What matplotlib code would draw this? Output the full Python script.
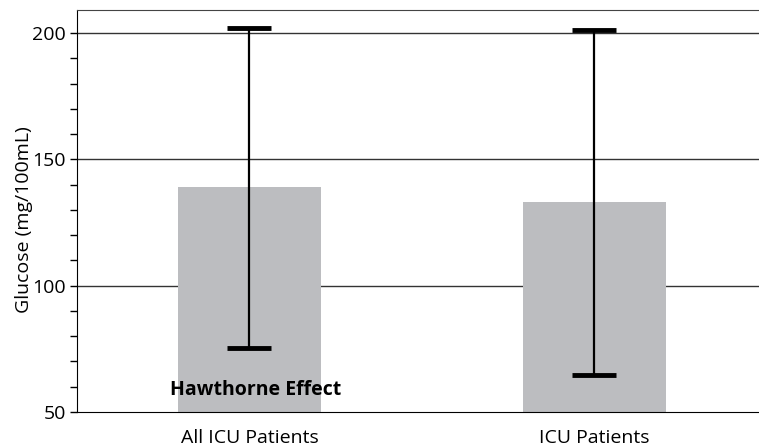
import matplotlib.pyplot as plt

categories = ['All ICU Patients', 'ICU Patients']
means = [138.9, 133.3]
lows = [75.2, 64.5]
highs = [202.0, 201.0]

plt.rcParams['font.family'] = ['Open Sans', 'DejaVu Sans']

fig = plt.figure(figsize=(7.59, 4.47), dpi=100)
ax = fig.add_axes([77 / 759, 1 - 412 / 447, 682 / 759, 402 / 447])

x = list(range(len(categories)))
ax.bar(x, means, width=0.414, color='#bcbdc0', zorder=2)

yerr = [[m - lo for m, lo in zip(means, lows)],
        [hi - m for m, hi in zip(means, highs)]]
ax.errorbar(x, means, yerr=yerr, fmt='none', ecolor='black',
            elinewidth=1.6, capsize=15.8, capthick=3.5, zorder=3)

ax.set_xlim(-0.5, 1.477)
ax.set_ylim(50, 209.1)
ax.set_yticks([50, 100, 150, 200])
ax.set_yticks(range(60, 200, 10), minor=True)
ax.set_xticks(x)
ax.set_xticklabels(categories, fontsize=14)
ax.tick_params(axis='y', which='major', length=5, width=1, labelsize=14, pad=3)
ax.tick_params(axis='y', which='minor', length=5, width=1)
ax.tick_params(axis='x', length=0, pad=12)

for v in [100, 150, 200]:
    ax.axhline(v, color='#333333', linewidth=1, zorder=1)

ax.spines['right'].set_visible(False)
ax.spines['top'].set_color('#444444')
ax.spines['left'].set_color('black')
ax.spines['bottom'].set_color('black')

ax.set_ylabel('Glucose (mg/100mL)', fontsize=14)
ax.yaxis.set_label_coords(-0.064, 0.478)

ax.text(-0.23, 58.7, 'Hawthorne Effect', fontsize=14, fontweight='bold',
        va='center', ha='left', zorder=4)

plt.savefig('out.png', dpi=100)
